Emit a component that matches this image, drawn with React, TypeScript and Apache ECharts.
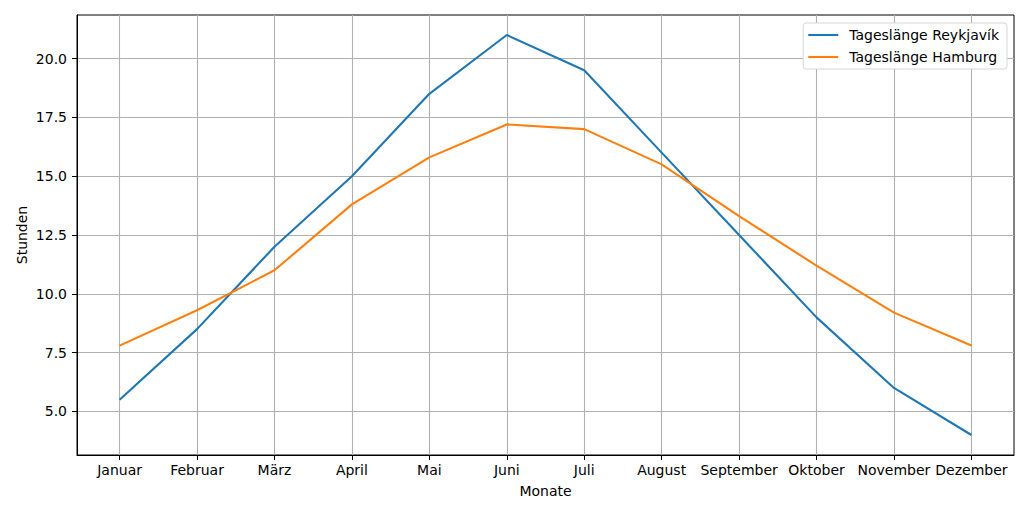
import { useEffect, useRef } from 'react'
import * as echarts from 'echarts'

const months = [
  'Januar', 'Februar', 'März', 'April', 'Mai', 'Juni',
  'Juli', 'August', 'September', 'Oktober', 'November', 'Dezember',
]
const reykjavik = [5.5, 8.5, 12, 15, 18.5, 21, 19.5, 16, 12.5, 9, 6, 4]
const hamburg = [7.8, 9.3, 11, 13.8, 15.8, 17.2, 17, 15.5, 13.3, 11.2, 9.2, 7.8]
const yTicks = [5, 7.5, 10, 12.5, 15, 17.5, 20]

const FONT = '"DejaVu Sans", sans-serif'
// legend icon: a plain line, no marker
const LINE_ICON = 'path://M0,0L30,0L30,2.1L0,2.1Z'

export default function App() {
  const chartRef = useRef<HTMLDivElement>(null)

  useEffect(() => {
    if (!chartRef.current) return
    document.body.style.margin = '0'
    const chart = echarts.init(chartRef.current, undefined, { renderer: 'svg' })
    const idx = months.map((_, i) => i)

    chart.setOption({
      animation: false,
      backgroundColor: '#fff',
      textStyle: { fontFamily: FONT },
      grid: {
        left: 77, right: 16, top: 15, bottom: 60,
        show: true, borderColor: '#000', borderWidth: 1, backgroundColor: 'transparent',
      },
      legend: {
        orient: 'vertical',
        right: 23,
        top: 23,
        padding: [5, 8, 5, 5],
        itemGap: 8,
        itemWidth: 30,
        itemHeight: 14,
        icon: LINE_ICON,
        itemStyle: { borderWidth: 0 },
        backgroundColor: '#fff',
        borderColor: '#d6d6d6',
        borderWidth: 1,
        borderRadius: 3,
        textStyle: { fontFamily: FONT, fontSize: 14, color: '#000', padding: [0, 0, 0, 6] },
        data: ['Tageslänge Reykjavík', 'Tageslänge Hamburg'],
      },
      xAxis: {
        type: 'value',
        min: -0.55,
        max: 11.55,
        name: 'Monate',
        nameLocation: 'middle',
        nameGap: 29,
        nameTextStyle: { fontFamily: FONT, fontSize: 14, color: '#000' },
        axisLine: { show: true, onZero: false, lineStyle: { color: '#000', width: 1 } },
        axisTick: { show: true, length: 5, customValues: idx, lineStyle: { color: '#000' } },
        axisLabel: {
          customValues: idx,
          margin: 8,
          fontFamily: FONT,
          fontSize: 14,
          color: '#000',
          formatter: (v: number) => months[Math.round(v)] ?? '',
        },
        splitLine: { show: true, lineStyle: { color: '#b0b0b0', width: 1.1 } },
      },
      yAxis: {
        type: 'value',
        min: 3.15,
        max: 21.85,
        name: 'Stunden',
        nameLocation: 'middle',
        nameGap: 48,
        nameMoveOverlap: false,
        nameTextStyle: { fontFamily: FONT, fontSize: 14, color: '#000' },
        axisLine: { show: true, onZero: false, lineStyle: { color: '#000', width: 1 } },
        axisTick: { show: true, length: 5, customValues: yTicks, lineStyle: { color: '#000' } },
        axisLabel: {
          customValues: yTicks,
          margin: 10,
          fontFamily: FONT,
          fontSize: 14,
          color: '#000',
          formatter: (v: number) => v.toFixed(1),
        },
        splitLine: { show: true, lineStyle: { color: '#b0b0b0', width: 1.1 } },
      },
      series: [
        {
          name: 'Tageslänge Reykjavík',
          type: 'line',
          symbol: 'none',
          data: reykjavik.map((v, i) => [i, v]),
          lineStyle: { color: '#1f77b4', width: 2.1 },
          itemStyle: { color: '#1f77b4' },
        },
        {
          name: 'Tageslänge Hamburg',
          type: 'line',
          symbol: 'none',
          data: hamburg.map((v, i) => [i, v]),
          lineStyle: { color: '#ff7f0e', width: 2.1 },
          itemStyle: { color: '#ff7f0e' },
        },
      ],
    })

    return () => {
      chart.dispose()
    }
  }, [])

  return <div ref={chartRef} style={{ width: 1030, height: 515 }} />
}
